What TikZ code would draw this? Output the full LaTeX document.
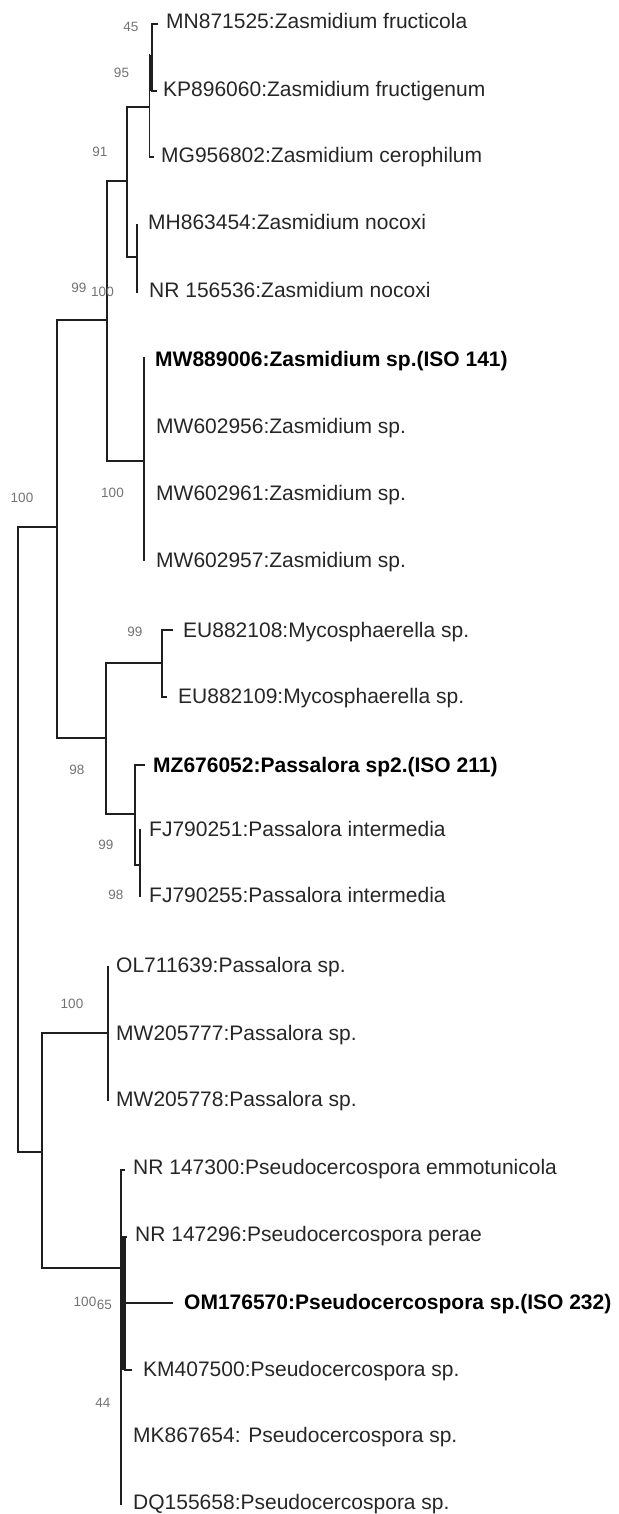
\documentclass[tikz,border=0pt]{standalone}
\usepackage{fontspec}
\setmainfont{Liberation Sans}
\begin{document}
\begin{tikzpicture}[x=1pt,y=-1pt,
  br/.style={line width=1.9pt, draw=black!88, line cap=rect},
  lab/.style={anchor=base west, inner sep=0pt, text=black!85, font=\fontsize{21}{25}\selectfont},
  blab/.style={lab, text=black, font=\fontsize{21}{25}\selectfont\bfseries},
  bs/.style={anchor=center, inner sep=0pt, text=black!55, font=\fontsize{13.5}{15}\selectfont}]
\useasboundingbox (0,0) rectangle (618,1514);

% ---------- leaf labels ----------
\node[lab]  (l1)  at (166,29)   {MN871525:Zasmidium fructicola};
\node[lab]  (l2)  at (163,97)   {KP896060:Zasmidium fructigenum};
\node[lab]  (l3)  at (161,163)  {MG956802:Zasmidium cerophilum};
\node[lab]  (l4)  at (148,230)  {MH863454:Zasmidium nocoxi};
\node[lab]  (l5)  at (149,297)  {NR 156536:Zasmidium nocoxi};
\node[blab] (l6)  at (155,366)  {MW889006:Zasmidium sp.(ISO 141)};
\node[lab]  (l7)  at (156,433)  {MW602956:Zasmidium sp.};
\node[lab]  (l8)  at (156,500)  {MW602961:Zasmidium sp.};
\node[lab]  (l9)  at (156,567)  {MW602957:Zasmidium sp.};
\node[lab]  (l10) at (183,637)  {EU882108:Mycosphaerella sp.};
\node[lab]  (l11) at (178,703)  {EU882109:Mycosphaerella sp.};
\node[blab] (l12) at (153,772)  {MZ676052:Passalora sp2.(ISO 211)};
\node[lab]  (l13) at (149,836)  {FJ790251:Passalora intermedia};
\node[lab]  (l14) at (149,902)  {FJ790255:Passalora intermedia};
\node[lab]  (l15) at (116,972)  {OL711639:Passalora sp.};
\node[lab]  (l16) at (116,1040) {MW205777:Passalora sp.};
\node[lab]  (l17) at (116,1106) {MW205778:Passalora sp.};
\node[lab]  (l18) at (133,1174) {NR 147300:Pseudocercospora emmotunicola};
\node[lab]  (l19) at (135,1241) {NR 147296:Pseudocercospora perae};
\node[blab] (l20) at (184,1309) {OM176570:Pseudocercospora sp.(ISO 232)};
\node[lab]  (l21) at (143,1376) {KM407500:Pseudocercospora sp.};
\node[lab]  (l22) at (133,1442) {MK867654: Pseudocercospora sp.};
\node[lab]  (l23) at (133,1509) {DQ155658:Pseudocercospora sp.};

% ---------- tree ----------
% root
\coordinate (rA) at (18,527);
\coordinate (rB) at (18,1152);
\draw[br] (rA) -- (rB);

% upper clade
\coordinate (n57) at (57,527);
\draw[br] (rA) -- (n57);
\draw[br] (57,320) -- (57,738);

% Zasmidium clade
\coordinate (n107) at (107,320);
\draw[br] (57,320) -- (n107);
\draw[br] (107,181) -- (107,461);

\coordinate (n127) at (127,181);
\draw[br] (107,181) -- (n127);
\draw[br] (127,107) -- (127,257);

\coordinate (n149) at (149.5,107);
\draw[br] (127,107) -- (n149);
\draw[br] (149.5,55) -- (149.5,157);
\draw[br] (152,24) -- (152,91);
\fill[black!88] (148.6,55) rectangle (152.9,91);
\coordinate (t1) at (157,24);
\coordinate (t2) at (156,91);
\coordinate (t3) at (153,157);
\draw[br] (152,24) -- (t1);
\draw[br] (152,91) -- (t2);
\draw[br] (149.5,157) -- (t3);

\coordinate (n137) at (137,257);
\draw[br] (127,257) -- (n137);
\coordinate (t4) at (137,225);
\coordinate (t5) at (137,292);
\draw[br] (t4) -- (t5);

\coordinate (n144) at (144,461);
\draw[br] (107,461) -- (n144);
\coordinate (t6) at (144,358);
\coordinate (t9) at (144,560);
\draw[br] (t6) -- (t9);

% Mycosphaerella + Passalora clade
\coordinate (n106) at (106,738);
\draw[br] (57,738) -- (n106);
\draw[br] (106,663) -- (106,814);

\coordinate (n162) at (162,663);
\draw[br] (106,663) -- (n162);
\draw[br] (162,630) -- (162,697);
\coordinate (t10) at (172,630);
\coordinate (t11) at (166,697);
\draw[br] (162,630) -- (t10);
\draw[br] (162,697) -- (t11);

\coordinate (n135) at (135,814);
\draw[br] (106,814) -- (n135);
\draw[br] (135,765) -- (135,865);
\coordinate (t12) at (144,765);
\draw[br] (135,765) -- (t12);
\coordinate (n140) at (140,865);
\draw[br] (135,865) -- (n140);
\coordinate (t13) at (140,830);
\coordinate (t14) at (140,896);
\draw[br] (t13) -- (t14);

% lower clade
\coordinate (n42) at (42,1152);
\draw[br] (rB) -- (n42);
\draw[br] (42,1033) -- (42,1268);

\coordinate (n108) at (108,1033);
\draw[br] (42,1033) -- (n108);
\coordinate (t15) at (108,967);
\coordinate (t17) at (108,1100);
\draw[br] (t15) -- (t17);

\coordinate (n121) at (121,1268);
\draw[br] (42,1268) -- (n121);
\coordinate (t18) at (124,1170);
\coordinate (t23) at (121,1504);
\draw[br] (121,1170) -- (t23);
\draw[br] (121,1170) -- (t18);
\fill[black!88] (120.1,1237) rectangle (125.6,1370);
\coordinate (t19) at (126,1237);
\draw[br] (123,1237) -- (t19);
\coordinate (t20) at (172,1303);
\draw[br] (125,1303) -- (t20);
\coordinate (t21) at (131,1370);
\draw[br] (125,1370) -- (t21);

% ---------- bootstrap values ----------
\node[bs] (b1)  at (131,27)    {45};
\node[bs] (b2)  at (121.5,73)  {95};
\node[bs] (b3)  at (100,152)   {91};
\node[bs] (b4)  at (79,288)    {99};
\node[bs] (b5)  at (102.5,292) {100};
\node[bs] (b6)  at (112.5,493) {100};
\node[bs] (b7)  at (22,498)    {100};
\node[bs] (b8)  at (135,632)   {99};
\node[bs] (b9)  at (77,770)    {98};
\node[bs] (b10) at (106,845)   {99};
\node[bs] (b11) at (116,895)   {98};
\node[bs] (b12) at (72,1004)   {100};
\node[bs] (b13) at (85,1302)   {100};
\node[bs] (b14) at (104.5,1305) {65};
\node[bs] (b15) at (103,1403)  {44};
\end{tikzpicture}
\end{document}
